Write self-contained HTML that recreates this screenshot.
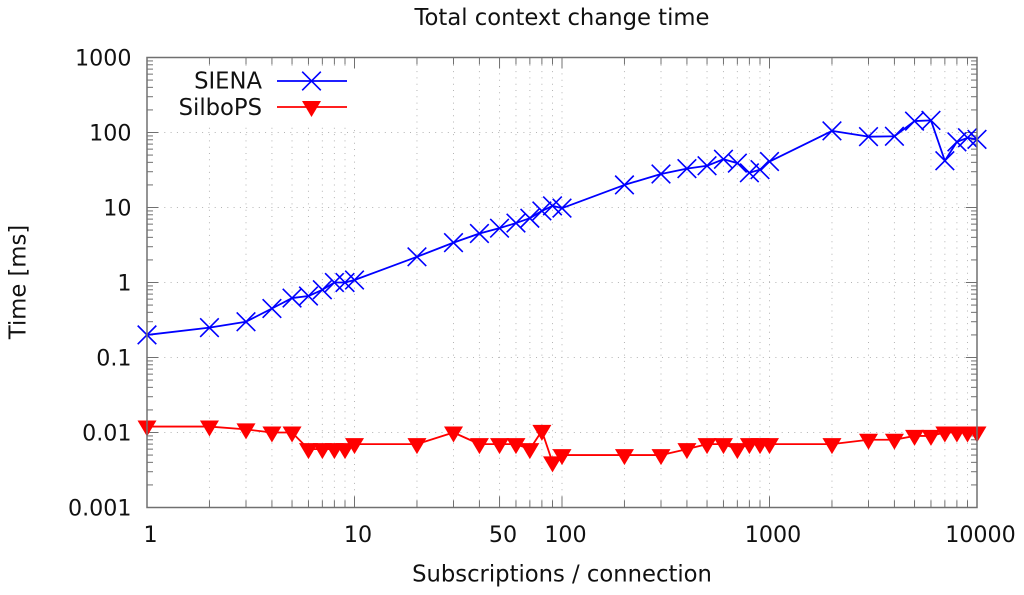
<!DOCTYPE html>
<html lang="en">
<head>
<meta charset="utf-8">
<title>Total context change time</title>
<style>
  html, body { margin: 0; padding: 0; background: #fff; }
  svg { display: block; }
  text { font-family: "DejaVu Sans", "Liberation Sans", sans-serif; font-size: 22.7px; fill: #111; }
  #tick-labels text { font-size: 22.2px; }
</style>
</head>
<body>
<svg id="chart" xmlns="http://www.w3.org/2000/svg" width="1024" height="595" viewBox="0 0 1024 595">
  <rect x="0" y="0" width="1024" height="595" fill="#ffffff"/>
  <g id="grid"></g>
  <rect x="150" y="66" width="206" height="59" fill="#ffffff"/>
  <g id="ticks"></g>
  <g id="tick-labels"></g>
  <g id="series-siena"></g>
  <g id="series-silbops"></g>
  <rect x="147" y="57.5" width="830" height="450" fill="none" stroke="#707070" stroke-width="1.5"/>
  <text x="562" y="25" text-anchor="middle">Total context change time</text>
  <text x="562" y="581.5" text-anchor="middle">Subscriptions / connection</text>
  <text transform="translate(25.5 282) rotate(-90)" text-anchor="middle">Time [ms]</text>
  <g>
    <g>
      <text x="262" y="88.5" text-anchor="end">SIENA</text>
      <line x1="277" y1="81" x2="347" y2="81" stroke="#0000ff" stroke-width="1.8"/>
      <path d="M302.2 71.7L320.8 90.3M302.2 90.3L320.8 71.7" stroke="#0000ff" stroke-width="1.6" fill="none"/>
    </g>
    <g>
      <text x="262" y="115" text-anchor="end">SilboPS</text>
      <line x1="277" y1="107" x2="347" y2="107" stroke="#ff0000" stroke-width="1.8"/>
      <path d="M302 101L321 101L311.5 117Z" fill="#ff0000"/>
    </g>
  </g>
</svg>
<script>
const subscriptions = [1,2,3,4,5,6,7,8,9,10,20,30,40,50,60,70,80,90,100,200,300,400,500,600,700,800,900,1000,2000,3000,4000,5000,6000,7000,8000,9000,10000];
const sienaValues = [0.2,0.25,0.3,0.45,0.62,0.66,0.8,1.0,1.0,1.08,2.2,3.4,4.5,5.3,6.2,7.2,9,10.5,9.8,20,28,33,36,44,39,29,32,41,105,88,89,142,145,42,75,85,81];
const silbopsValues = [0.012,0.012,0.011,0.01,0.01,0.006,0.006,0.006,0.006,0.007,0.007,0.01,0.007,0.007,0.007,0.006,0.0105,0.004,0.005,0.005,0.005,0.006,0.007,0.007,0.006,0.007,0.007,0.007,0.007,0.008,0.008,0.009,0.009,0.01,0.01,0.01,0.01];
const xTickLabels = [1,10,50,100,1000,10000];
const yTickLabels = ["0.001","0.01","0.1","1","10","100","1000"];
const xDecades = [1,10,100,1000,10000];
const yDecades = [0.001,0.01,0.1,1,10,100,1000];
const minorMultipliers = [2,3,4,5,6,7,8,9];

const NS = 'http://www.w3.org/2000/svg';
const plotLeft = 147, plotRight = 977, plotTop = 57.5, plotBottom = 507.5;
const xMin = 1, xMax = 10000, yMin = 0.001, yMax = 1000;

function xScale(v) {
  return plotLeft + (Math.log10(v) - Math.log10(xMin)) / (Math.log10(xMax) - Math.log10(xMin)) * (plotRight - plotLeft);
}
function yScale(v) {
  return plotBottom - (Math.log10(v) - Math.log10(yMin)) / (Math.log10(yMax) - Math.log10(yMin)) * (plotBottom - plotTop);
}
function shape(parent, tag, attrs) {
  const el = document.createElementNS(NS, tag);
  for (const k in attrs) el.setAttribute(k, attrs[k]);
  parent.appendChild(el);
  return el;
}

const gridGroup = document.getElementById('grid');
const tickGroup = document.getElementById('ticks');
const labelGroup = document.getElementById('tick-labels');
const gridStyle = { stroke: '#b4b4b4', 'stroke-width': 1, 'stroke-dasharray': '1 5.3' };
const tickColor = '#707070';

const xMinorValues = [];
xDecades.slice(0, -1).forEach(function (d) {
  minorMultipliers.forEach(function (m) { xMinorValues.push(d * m); });
});

xDecades.concat(xMinorValues).forEach(function (v) {
  const isMajor = xDecades.includes(v) || v === 50;
  const len = isMajor ? 11 : 7;
  const x = xScale(v);
  if (v > xMin && v < xMax) {
    const g = shape(gridGroup, 'line', Object.assign({ x1: x, x2: x, y1: plotBottom - len, y2: plotTop + len }, gridStyle));
    
    
  }
  const bottomTick = shape(tickGroup, 'line', { x1: x, x2: x, y1: plotBottom, y2: plotBottom - len, stroke: tickColor, 'stroke-width': 1 });
  
  
  const topTick = shape(tickGroup, 'line', { x1: x, x2: x, y1: plotTop, y2: plotTop + len, stroke: tickColor, 'stroke-width': 1 });
  
  
});

const yMinorValues = [];
yDecades.slice(0, -1).forEach(function (d) {
  minorMultipliers.forEach(function (m) { yMinorValues.push(d * m); });
});

yDecades.concat(yMinorValues).forEach(function (v) {
  const isMajor = yDecades.includes(v);
  const len = isMajor ? 11 : 6;
  const y = yScale(v);
  if (isMajor && v > yMin && v < yMax) {
    const g = shape(gridGroup, 'line', Object.assign({ x1: plotLeft + len, x2: plotRight - len, y1: y, y2: y }, gridStyle));
    
    
  }
  const leftTick = shape(tickGroup, 'line', { x1: plotLeft, x2: plotLeft + len, y1: y, y2: y, stroke: tickColor, 'stroke-width': 1 });
  
  
  const rightTick = shape(tickGroup, 'line', { x1: plotRight, x2: plotRight - len, y1: y, y2: y, stroke: tickColor, 'stroke-width': 1 });
  
  
});

xTickLabels.forEach(function (v) {
  const t = shape(labelGroup, 'text', { x: xScale(v) + 3.5, y: 542, 'text-anchor': 'middle' });
  t.textContent = String(v);
  
  
});
yTickLabels.forEach(function (label) {
  const t = shape(labelGroup, 'text', { x: 131.5, y: yScale(Number(label)) + 8, 'text-anchor': 'end' });
  t.textContent = label;
  
  
});

const sienaGroup = document.getElementById('series-siena');
const silbopsGroup = document.getElementById('series-silbops');

const sienaLine = shape(sienaGroup, 'polyline', {
  points: subscriptions.map(function (s, i) { return xScale(s) + ',' + yScale(sienaValues[i]); }).join(' '),
  fill: 'none', stroke: '#0000ff', 'stroke-width': 1.8, 'stroke-linejoin': 'round'
});



subscriptions.forEach(function (s, i) {
  const x = xScale(s), y = yScale(sienaValues[i]), r = 9.3;
  const m = shape(sienaGroup, 'path', {
    d: 'M' + (x - r) + ' ' + (y - r) + 'L' + (x + r) + ' ' + (y + r) + 'M' + (x - r) + ' ' + (y + r) + 'L' + (x + r) + ' ' + (y - r),
    fill: 'none', stroke: '#0000ff', 'stroke-width': 1.6
  });
  
  
});

const silbopsLine = shape(silbopsGroup, 'polyline', {
  points: subscriptions.map(function (s, i) { return xScale(s) + ',' + yScale(silbopsValues[i]); }).join(' '),
  fill: 'none', stroke: '#ff0000', 'stroke-width': 1.8, 'stroke-linejoin': 'round'
});



subscriptions.forEach(function (s, i) {
  const x = xScale(s), y = yScale(silbopsValues[i]);
  const m = shape(silbopsGroup, 'path', {
    d: 'M' + (x - 9.5) + ' ' + (y - 6) + 'L' + (x + 9.5) + ' ' + (y - 6) + 'L' + x + ' ' + (y + 10) + 'Z',
    fill: '#ff0000'
  });
  
  
});
</script>
</body>
</html>
